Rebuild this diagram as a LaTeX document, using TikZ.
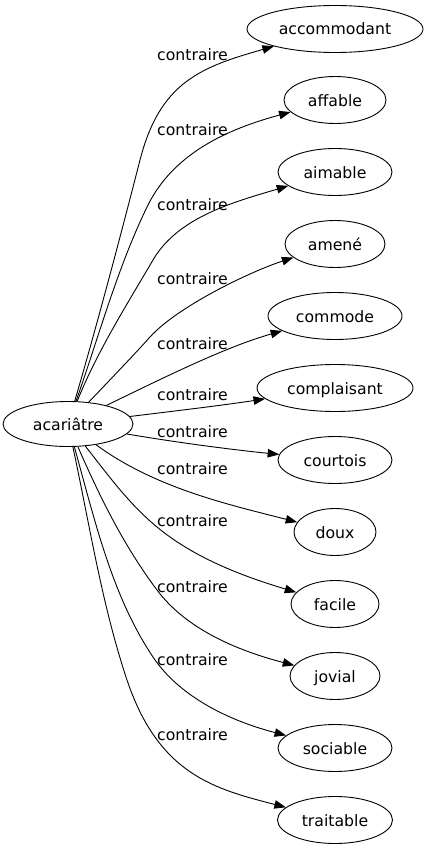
\documentclass[tikz,border=0pt]{standalone}
\usepackage{fontspec}
\setmainfont{DejaVu Sans}
\usetikzlibrary{arrows.meta,shapes.geometric}
\begin{document}
\begin{tikzpicture}[x=1pt,y=-1pt,
  word/.style={draw, ellipse, inner sep=0pt, minimum height=47pt,
    font=\fontsize{15.7}{18}\selectfont, text height=12pt, text depth=0pt, line width=0.9pt},
  lbl/.style={font=\fontsize{15.7}{18}\selectfont, anchor=base, inner sep=0pt},
  link/.style={line width=0.9pt, -{Triangle[length=11.5pt,width=8.5pt]}}]
\useasboundingbox (0,0) rectangle (427,851);

\node[word, minimum width=130pt, minimum height=45pt] (src) at (68,424) {acariâtre};
\node[word, minimum width=176pt] (n1) at (335,29) {accommodant};
\node[word, minimum width=102pt] (n2) at (335,100) {affable};
\node[word, minimum width=114pt] (n3) at (335,172) {aimable};
\node[word, minimum width=100pt] (n4) at (335,244) {amené};
\node[word, minimum width=134pt] (n5) at (335,316) {commode};
\node[word, minimum width=156pt] (n6) at (335,388) {complaisant};
\node[word, minimum width=114pt] (n7) at (335,460) {courtois};
\node[word, minimum width=82pt] (n8) at (335,532) {doux};
\node[word, minimum width=88pt] (n9) at (335,604) {facile};
\node[word, minimum width=90pt] (n10) at (335,676) {jovial};
\node[word, minimum width=114pt] (n11) at (335,748) {sociable};
\node[word, minimum width=115pt] (n12) at (335,820) {traitable};

\node[lbl] (l1) at (192.5,60) {contraire};
\node[lbl] (l2) at (192.5,135) {contraire};
\node[lbl] (l3) at (192.5,210) {contraire};
\node[lbl] (l4) at (192.5,284) {contraire};
\node[lbl] (l5) at (192.5,349) {contraire};
\node[lbl] (l6) at (192.5,400) {contraire};
\node[lbl] (l7) at (192.5,437) {contraire};
\node[lbl] (l8) at (192.5,474) {contraire};
\node[lbl] (l9) at (192.5,526) {contraire};
\node[lbl] (l10) at (192.5,592) {contraire};
\node[lbl] (l11) at (192.5,665) {contraire};
\node[lbl] (l12) at (192.5,740) {contraire};

\draw[link] (src) .. controls (97,325) and (120,238) .. (140,160)
  .. controls (160,82) and (201,67) .. (n1);
\draw[link] (src) .. controls (99,336) and (117,269) .. (147,207)
  .. controls (173,153) and (228,129) .. (n2);
\draw[link] (src) .. controls (97,352) and (126,306) .. (153,260)
  .. controls (178,217) and (234,202) .. (n3);
\draw[link] (src) .. controls (105.5,384.5) and (133,356) .. (150,337)
  .. controls (177,307) and (249,272) .. (n4);
\draw[link] (src) .. controls (161,379) and (225,347) .. (n5);
\draw[link] (src) .. controls (175,411) and (225,405) .. (n6);
\draw[link] (src) .. controls (180,443) and (235,450) .. (n7);
\draw[link] (src) .. controls (156,489) and (233,505.5) .. (n8);
\draw[link] (src) .. controls (108,475) and (129,504) .. (157,527)
  .. controls (195.5,559) and (245.5,577) .. (n9);
\draw[link] (src) .. controls (100.7,499) and (124.6,546.8) .. (157,590)
  .. controls (188,631.6) and (243,652) .. (n10);
\draw[link] (src) .. controls (95,521) and (112,596) .. (153,657)
  .. controls (181,699) and (234,722) .. (n11);
\draw[link] (src) .. controls (90,527) and (102,605) .. (127,680)
  .. controls (159,775) and (215,789) .. (n12);
\end{tikzpicture}
\end{document}
